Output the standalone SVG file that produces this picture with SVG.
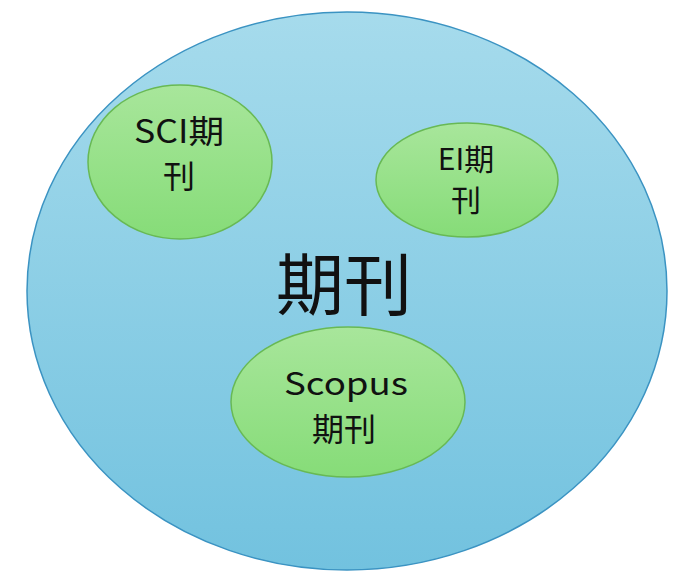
<svg xmlns="http://www.w3.org/2000/svg" width="700" height="578" viewBox="0 0 700 578">
<defs>
<linearGradient id="blue" x1="0" y1="0" x2="0" y2="1">
<stop offset="0" stop-color="#a6dbec"/>
<stop offset="1" stop-color="#72c2df"/>
</linearGradient>
<linearGradient id="green" x1="0" y1="0" x2="0" y2="1">
<stop offset="0" stop-color="#a8e69b"/>
<stop offset="1" stop-color="#86dc78"/>
</linearGradient>
<style>
.big{fill:url(#blue);stroke:#3b93c2;stroke-width:1.5}
.node{fill:url(#green);stroke:#68b954;stroke-width:1.5}
.t{font-family:"Noto Sans CJK SC","Liberation Sans",sans-serif;fill:#111;text-anchor:middle;font-weight:400}
</style>
</defs>
<rect width="700" height="578" fill="#ffffff"/>
<g id="journal">
<ellipse class="big" cx="347" cy="291" rx="320" ry="279"/>
<text class="t" x="344" y="310" font-size="68">期刊</text>
</g>
<g id="sci">
<ellipse class="node" cx="180" cy="162" rx="92" ry="77"/>
<text class="t" x="179" y="143" font-size="32" textLength="90" lengthAdjust="spacingAndGlyphs">SCI期</text>
<text class="t" x="179" y="188" font-size="32">刊</text>
</g>
<g id="ei">
<ellipse class="node" cx="467" cy="180" rx="91" ry="57"/>
<text class="t" x="466" y="170" font-size="30">EI期</text>
<text class="t" x="466" y="211" font-size="30">刊</text>
</g>
<g id="scopus">
<ellipse class="node" cx="348" cy="402" rx="117" ry="75"/>
<text class="t" x="346" y="395" font-size="31" textLength="124" lengthAdjust="spacingAndGlyphs">Scopus</text>
<text class="t" x="344" y="441" font-size="32">期刊</text>
</g>
<g id="connectors"></g>
</svg>
